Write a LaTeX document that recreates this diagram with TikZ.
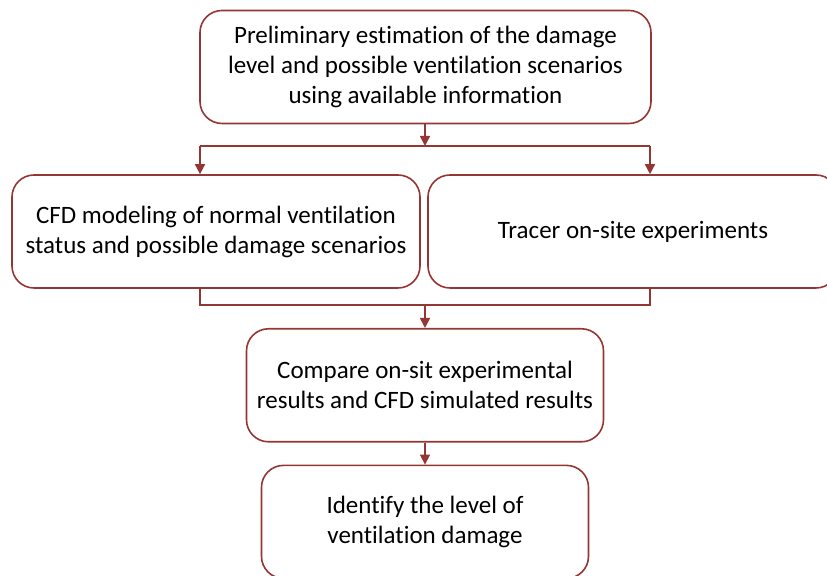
\documentclass[tikz,border=0pt]{standalone}
\usepackage{fontspec}
\setmainfont{Carlito}[Ligatures=NoCommon]
\usepackage{xcolor}
\definecolor{boxred}{HTML}{943634}
\usetikzlibrary{
  positioning,
  arrows.meta
}

\begin{document}
\begin{tikzpicture}[
  x=0.5pt, y=-0.5pt,
  node distance=11pt,
  every node/.style={
    font=\fontsize{12.5}{15}\selectfont,
    align=center
  },
  stepbox/.style={
    draw=boxred,
    line width=0.8pt,
    rounded corners=11pt,
    fill=white,
    minimum height=56.5pt,
    inner sep=2pt
  },
  arr/.style={
    -{Triangle[length=5pt,width=5pt]},
    line width=0.8pt,
    color=boxred
  },
  wire/.style={
    line width=0.8pt,
    color=boxred
  }
]
\path[use as bounding box, clip] (0,0) rectangle (827,576);

% Row 1: first estimation
\node[stepbox, minimum width=225.5pt] (prelim) at (425.5,67)
  {Preliminary estimation of the damage\\level and possible ventilation scenarios\\using available information};

% Row 2: two branches
\node[stepbox, minimum width=204pt] (cfd) at (216,231.5)
  {CFD modeling of normal ventilation\\status and possible damage scenarios};
\node[stepbox, minimum width=205pt] (tracer) at (633,231.5)
  {Tracer on-site experiments};

% Split and merge points
\coordinate (split)  at (425,146);
\coordinate (splitL) at (200,146);
\coordinate (splitR) at (650,146);
\coordinate (mergeL) at (200,305);
\coordinate (mergeR) at (650,305);
\coordinate (merge)  at (425,305);

% Row 3: comparison
\node[stepbox, minimum width=178.5pt, below=11.5pt of merge] (compare)
  {Compare on-sit experimental\\results and CFD simulated results};

% Row 4: result
\node[stepbox, minimum width=163.5pt, below=of compare] (identify)
  {Identify the level of\\ventilation damage};

% Arrows
\draw[arr]  (prelim.south -| split) -- (split);
\draw[wire] (splitL) -- (splitR);
\draw[arr]  (splitL) -- (splitL |- cfd.north);
\draw[arr]  (splitR) -- (splitR |- tracer.north);
\draw[wire] (mergeL |- cfd.south) -- (mergeL) -- (mergeR) -- (mergeR |- tracer.south);
\draw[arr]  (merge)  -- (compare);
\draw[arr]  (compare) -- (identify);

\end{tikzpicture}
\end{document}
